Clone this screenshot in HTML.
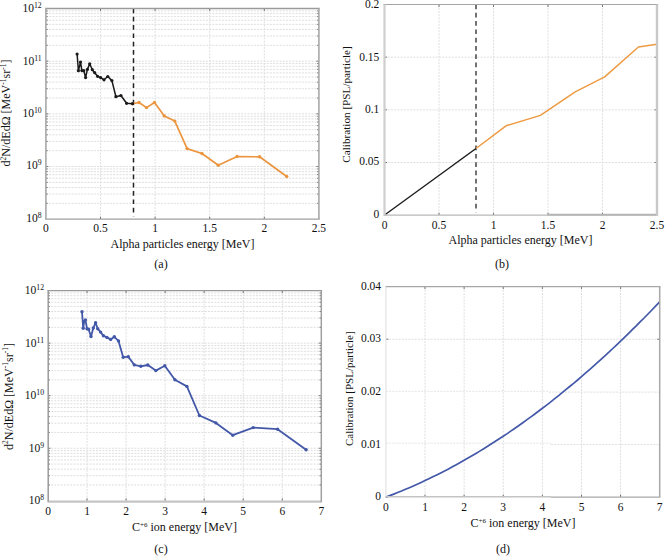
<!DOCTYPE html>
<html><head><meta charset="utf-8"><style>
html,body{margin:0;padding:0;background:#fff;}
svg{display:block;}
text{font-family:"Liberation Serif",serif;fill:#111;}
</style></head><body>
<svg width="665" height="556" viewBox="0 0 665 556">
<rect width="665" height="556" fill="#fff"/>
<line x1="45.9" y1="203.34" x2="318.9" y2="203.34" stroke="#dedede" stroke-width="1" stroke-dasharray="2,1.2"/>
<line x1="45.9" y1="203.34" x2="47.699999999999996" y2="203.34" stroke="#666" stroke-width="0.9"/>
<line x1="317.09999999999997" y1="203.34" x2="318.9" y2="203.34" stroke="#666" stroke-width="0.9"/>
<line x1="45.9" y1="194.07" x2="318.9" y2="194.07" stroke="#dedede" stroke-width="1" stroke-dasharray="2,1.2"/>
<line x1="45.9" y1="194.07" x2="47.699999999999996" y2="194.07" stroke="#666" stroke-width="0.9"/>
<line x1="317.09999999999997" y1="194.07" x2="318.9" y2="194.07" stroke="#666" stroke-width="0.9"/>
<line x1="45.9" y1="187.49" x2="318.9" y2="187.49" stroke="#dedede" stroke-width="1" stroke-dasharray="2,1.2"/>
<line x1="45.9" y1="187.49" x2="47.699999999999996" y2="187.49" stroke="#666" stroke-width="0.9"/>
<line x1="317.09999999999997" y1="187.49" x2="318.9" y2="187.49" stroke="#666" stroke-width="0.9"/>
<line x1="45.9" y1="182.38" x2="318.9" y2="182.38" stroke="#dedede" stroke-width="1" stroke-dasharray="2,1.2"/>
<line x1="45.9" y1="182.38" x2="47.699999999999996" y2="182.38" stroke="#666" stroke-width="0.9"/>
<line x1="317.09999999999997" y1="182.38" x2="318.9" y2="182.38" stroke="#666" stroke-width="0.9"/>
<line x1="45.9" y1="178.21" x2="318.9" y2="178.21" stroke="#dedede" stroke-width="1" stroke-dasharray="2,1.2"/>
<line x1="45.9" y1="178.21" x2="47.699999999999996" y2="178.21" stroke="#666" stroke-width="0.9"/>
<line x1="317.09999999999997" y1="178.21" x2="318.9" y2="178.21" stroke="#666" stroke-width="0.9"/>
<line x1="45.9" y1="174.68" x2="318.9" y2="174.68" stroke="#dedede" stroke-width="1" stroke-dasharray="2,1.2"/>
<line x1="45.9" y1="174.68" x2="47.699999999999996" y2="174.68" stroke="#666" stroke-width="0.9"/>
<line x1="317.09999999999997" y1="174.68" x2="318.9" y2="174.68" stroke="#666" stroke-width="0.9"/>
<line x1="45.9" y1="171.63" x2="318.9" y2="171.63" stroke="#dedede" stroke-width="1" stroke-dasharray="2,1.2"/>
<line x1="45.9" y1="171.63" x2="47.699999999999996" y2="171.63" stroke="#666" stroke-width="0.9"/>
<line x1="317.09999999999997" y1="171.63" x2="318.9" y2="171.63" stroke="#666" stroke-width="0.9"/>
<line x1="45.9" y1="168.94" x2="318.9" y2="168.94" stroke="#dedede" stroke-width="1" stroke-dasharray="2,1.2"/>
<line x1="45.9" y1="168.94" x2="47.699999999999996" y2="168.94" stroke="#666" stroke-width="0.9"/>
<line x1="317.09999999999997" y1="168.94" x2="318.9" y2="168.94" stroke="#666" stroke-width="0.9"/>
<line x1="45.9" y1="166.52" x2="318.9" y2="166.52" stroke="#dedede" stroke-width="1" stroke-dasharray="2,1.2"/>
<line x1="45.9" y1="166.52" x2="48.4" y2="166.52" stroke="#666" stroke-width="0.9"/>
<line x1="316.4" y1="166.52" x2="318.9" y2="166.52" stroke="#666" stroke-width="0.9"/>
<line x1="45.9" y1="150.67" x2="318.9" y2="150.67" stroke="#dedede" stroke-width="1" stroke-dasharray="2,1.2"/>
<line x1="45.9" y1="150.67" x2="47.699999999999996" y2="150.67" stroke="#666" stroke-width="0.9"/>
<line x1="317.09999999999997" y1="150.67" x2="318.9" y2="150.67" stroke="#666" stroke-width="0.9"/>
<line x1="45.9" y1="141.39" x2="318.9" y2="141.39" stroke="#dedede" stroke-width="1" stroke-dasharray="2,1.2"/>
<line x1="45.9" y1="141.39" x2="47.699999999999996" y2="141.39" stroke="#666" stroke-width="0.9"/>
<line x1="317.09999999999997" y1="141.39" x2="318.9" y2="141.39" stroke="#666" stroke-width="0.9"/>
<line x1="45.9" y1="134.81" x2="318.9" y2="134.81" stroke="#dedede" stroke-width="1" stroke-dasharray="2,1.2"/>
<line x1="45.9" y1="134.81" x2="47.699999999999996" y2="134.81" stroke="#666" stroke-width="0.9"/>
<line x1="317.09999999999997" y1="134.81" x2="318.9" y2="134.81" stroke="#666" stroke-width="0.9"/>
<line x1="45.9" y1="129.71" x2="318.9" y2="129.71" stroke="#dedede" stroke-width="1" stroke-dasharray="2,1.2"/>
<line x1="45.9" y1="129.71" x2="47.699999999999996" y2="129.71" stroke="#666" stroke-width="0.9"/>
<line x1="317.09999999999997" y1="129.71" x2="318.9" y2="129.71" stroke="#666" stroke-width="0.9"/>
<line x1="45.9" y1="125.54" x2="318.9" y2="125.54" stroke="#dedede" stroke-width="1" stroke-dasharray="2,1.2"/>
<line x1="45.9" y1="125.54" x2="47.699999999999996" y2="125.54" stroke="#666" stroke-width="0.9"/>
<line x1="317.09999999999997" y1="125.54" x2="318.9" y2="125.54" stroke="#666" stroke-width="0.9"/>
<line x1="45.9" y1="122.01" x2="318.9" y2="122.01" stroke="#dedede" stroke-width="1" stroke-dasharray="2,1.2"/>
<line x1="45.9" y1="122.01" x2="47.699999999999996" y2="122.01" stroke="#666" stroke-width="0.9"/>
<line x1="317.09999999999997" y1="122.01" x2="318.9" y2="122.01" stroke="#666" stroke-width="0.9"/>
<line x1="45.9" y1="118.95" x2="318.9" y2="118.95" stroke="#dedede" stroke-width="1" stroke-dasharray="2,1.2"/>
<line x1="45.9" y1="118.95" x2="47.699999999999996" y2="118.95" stroke="#666" stroke-width="0.9"/>
<line x1="317.09999999999997" y1="118.95" x2="318.9" y2="118.95" stroke="#666" stroke-width="0.9"/>
<line x1="45.9" y1="116.26" x2="318.9" y2="116.26" stroke="#dedede" stroke-width="1" stroke-dasharray="2,1.2"/>
<line x1="45.9" y1="116.26" x2="47.699999999999996" y2="116.26" stroke="#666" stroke-width="0.9"/>
<line x1="317.09999999999997" y1="116.26" x2="318.9" y2="116.26" stroke="#666" stroke-width="0.9"/>
<line x1="45.9" y1="113.85" x2="318.9" y2="113.85" stroke="#dedede" stroke-width="1" stroke-dasharray="2,1.2"/>
<line x1="45.9" y1="113.85" x2="48.4" y2="113.85" stroke="#666" stroke-width="0.9"/>
<line x1="316.4" y1="113.85" x2="318.9" y2="113.85" stroke="#666" stroke-width="0.9"/>
<line x1="45.9" y1="97.99" x2="318.9" y2="97.99" stroke="#dedede" stroke-width="1" stroke-dasharray="2,1.2"/>
<line x1="45.9" y1="97.99" x2="47.699999999999996" y2="97.99" stroke="#666" stroke-width="0.9"/>
<line x1="317.09999999999997" y1="97.99" x2="318.9" y2="97.99" stroke="#666" stroke-width="0.9"/>
<line x1="45.9" y1="88.72" x2="318.9" y2="88.72" stroke="#dedede" stroke-width="1" stroke-dasharray="2,1.2"/>
<line x1="45.9" y1="88.72" x2="47.699999999999996" y2="88.72" stroke="#666" stroke-width="0.9"/>
<line x1="317.09999999999997" y1="88.72" x2="318.9" y2="88.72" stroke="#666" stroke-width="0.9"/>
<line x1="45.9" y1="82.14" x2="318.9" y2="82.14" stroke="#dedede" stroke-width="1" stroke-dasharray="2,1.2"/>
<line x1="45.9" y1="82.14" x2="47.699999999999996" y2="82.14" stroke="#666" stroke-width="0.9"/>
<line x1="317.09999999999997" y1="82.14" x2="318.9" y2="82.14" stroke="#666" stroke-width="0.9"/>
<line x1="45.9" y1="77.03" x2="318.9" y2="77.03" stroke="#dedede" stroke-width="1" stroke-dasharray="2,1.2"/>
<line x1="45.9" y1="77.03" x2="47.699999999999996" y2="77.03" stroke="#666" stroke-width="0.9"/>
<line x1="317.09999999999997" y1="77.03" x2="318.9" y2="77.03" stroke="#666" stroke-width="0.9"/>
<line x1="45.9" y1="72.86" x2="318.9" y2="72.86" stroke="#dedede" stroke-width="1" stroke-dasharray="2,1.2"/>
<line x1="45.9" y1="72.86" x2="47.699999999999996" y2="72.86" stroke="#666" stroke-width="0.9"/>
<line x1="317.09999999999997" y1="72.86" x2="318.9" y2="72.86" stroke="#666" stroke-width="0.9"/>
<line x1="45.9" y1="69.33" x2="318.9" y2="69.33" stroke="#dedede" stroke-width="1" stroke-dasharray="2,1.2"/>
<line x1="45.9" y1="69.33" x2="47.699999999999996" y2="69.33" stroke="#666" stroke-width="0.9"/>
<line x1="317.09999999999997" y1="69.33" x2="318.9" y2="69.33" stroke="#666" stroke-width="0.9"/>
<line x1="45.9" y1="66.28" x2="318.9" y2="66.28" stroke="#dedede" stroke-width="1" stroke-dasharray="2,1.2"/>
<line x1="45.9" y1="66.28" x2="47.699999999999996" y2="66.28" stroke="#666" stroke-width="0.9"/>
<line x1="317.09999999999997" y1="66.28" x2="318.9" y2="66.28" stroke="#666" stroke-width="0.9"/>
<line x1="45.9" y1="63.59" x2="318.9" y2="63.59" stroke="#dedede" stroke-width="1" stroke-dasharray="2,1.2"/>
<line x1="45.9" y1="63.59" x2="47.699999999999996" y2="63.59" stroke="#666" stroke-width="0.9"/>
<line x1="317.09999999999997" y1="63.59" x2="318.9" y2="63.59" stroke="#666" stroke-width="0.9"/>
<line x1="45.9" y1="61.18" x2="318.9" y2="61.18" stroke="#dedede" stroke-width="1" stroke-dasharray="2,1.2"/>
<line x1="45.9" y1="61.18" x2="48.4" y2="61.18" stroke="#666" stroke-width="0.9"/>
<line x1="316.4" y1="61.18" x2="318.9" y2="61.18" stroke="#666" stroke-width="0.9"/>
<line x1="45.9" y1="45.32" x2="318.9" y2="45.32" stroke="#dedede" stroke-width="1" stroke-dasharray="2,1.2"/>
<line x1="45.9" y1="45.32" x2="47.699999999999996" y2="45.32" stroke="#666" stroke-width="0.9"/>
<line x1="317.09999999999997" y1="45.32" x2="318.9" y2="45.32" stroke="#666" stroke-width="0.9"/>
<line x1="45.9" y1="36.04" x2="318.9" y2="36.04" stroke="#dedede" stroke-width="1" stroke-dasharray="2,1.2"/>
<line x1="45.9" y1="36.04" x2="47.699999999999996" y2="36.04" stroke="#666" stroke-width="0.9"/>
<line x1="317.09999999999997" y1="36.04" x2="318.9" y2="36.04" stroke="#666" stroke-width="0.9"/>
<line x1="45.9" y1="29.46" x2="318.9" y2="29.46" stroke="#dedede" stroke-width="1" stroke-dasharray="2,1.2"/>
<line x1="45.9" y1="29.46" x2="47.699999999999996" y2="29.46" stroke="#666" stroke-width="0.9"/>
<line x1="317.09999999999997" y1="29.46" x2="318.9" y2="29.46" stroke="#666" stroke-width="0.9"/>
<line x1="45.9" y1="24.36" x2="318.9" y2="24.36" stroke="#dedede" stroke-width="1" stroke-dasharray="2,1.2"/>
<line x1="45.9" y1="24.36" x2="47.699999999999996" y2="24.36" stroke="#666" stroke-width="0.9"/>
<line x1="317.09999999999997" y1="24.36" x2="318.9" y2="24.36" stroke="#666" stroke-width="0.9"/>
<line x1="45.9" y1="20.19" x2="318.9" y2="20.19" stroke="#dedede" stroke-width="1" stroke-dasharray="2,1.2"/>
<line x1="45.9" y1="20.19" x2="47.699999999999996" y2="20.19" stroke="#666" stroke-width="0.9"/>
<line x1="317.09999999999997" y1="20.19" x2="318.9" y2="20.19" stroke="#666" stroke-width="0.9"/>
<line x1="45.9" y1="16.66" x2="318.9" y2="16.66" stroke="#dedede" stroke-width="1" stroke-dasharray="2,1.2"/>
<line x1="45.9" y1="16.66" x2="47.699999999999996" y2="16.66" stroke="#666" stroke-width="0.9"/>
<line x1="317.09999999999997" y1="16.66" x2="318.9" y2="16.66" stroke="#666" stroke-width="0.9"/>
<line x1="45.9" y1="13.60" x2="318.9" y2="13.60" stroke="#dedede" stroke-width="1" stroke-dasharray="2,1.2"/>
<line x1="45.9" y1="13.60" x2="47.699999999999996" y2="13.60" stroke="#666" stroke-width="0.9"/>
<line x1="317.09999999999997" y1="13.60" x2="318.9" y2="13.60" stroke="#666" stroke-width="0.9"/>
<line x1="45.9" y1="10.91" x2="318.9" y2="10.91" stroke="#dedede" stroke-width="1" stroke-dasharray="2,1.2"/>
<line x1="45.9" y1="10.91" x2="47.699999999999996" y2="10.91" stroke="#666" stroke-width="0.9"/>
<line x1="317.09999999999997" y1="10.91" x2="318.9" y2="10.91" stroke="#666" stroke-width="0.9"/>
<line x1="100.50" y1="8.5" x2="100.50" y2="219.2" stroke="#dedede" stroke-width="1" stroke-dasharray="2,1.2"/>
<line x1="100.50" y1="216.7" x2="100.50" y2="219.2" stroke="#666" stroke-width="0.9"/>
<line x1="100.50" y1="8.5" x2="100.50" y2="11.0" stroke="#666" stroke-width="0.9"/>
<line x1="155.10" y1="8.5" x2="155.10" y2="219.2" stroke="#dedede" stroke-width="1" stroke-dasharray="2,1.2"/>
<line x1="155.10" y1="216.7" x2="155.10" y2="219.2" stroke="#666" stroke-width="0.9"/>
<line x1="155.10" y1="8.5" x2="155.10" y2="11.0" stroke="#666" stroke-width="0.9"/>
<line x1="209.70" y1="8.5" x2="209.70" y2="219.2" stroke="#dedede" stroke-width="1" stroke-dasharray="2,1.2"/>
<line x1="209.70" y1="216.7" x2="209.70" y2="219.2" stroke="#666" stroke-width="0.9"/>
<line x1="209.70" y1="8.5" x2="209.70" y2="11.0" stroke="#666" stroke-width="0.9"/>
<line x1="264.30" y1="8.5" x2="264.30" y2="219.2" stroke="#dedede" stroke-width="1" stroke-dasharray="2,1.2"/>
<line x1="264.30" y1="216.7" x2="264.30" y2="219.2" stroke="#666" stroke-width="0.9"/>
<line x1="264.30" y1="8.5" x2="264.30" y2="11.0" stroke="#666" stroke-width="0.9"/>
<line x1="133.5" y1="8.5" x2="133.5" y2="216.2" stroke="#222" stroke-width="1.5" stroke-dasharray="4.7,3.6"/>
<polyline points="132.6,103.7 139.0,102.5 146.5,107.6 154.5,102.5 164.3,115.9 174.8,121.1 187.1,148.6 201.9,153.5 218.3,165.3 237.1,156.5 259.6,156.8 286.7,176.5" fill="none" stroke="#ec953f" stroke-width="1.7" stroke-linejoin="round"/>
<circle cx="132.6" cy="103.7" r="1.7" fill="#ec953f"/>
<circle cx="139.0" cy="102.5" r="1.7" fill="#ec953f"/>
<circle cx="146.5" cy="107.6" r="1.7" fill="#ec953f"/>
<circle cx="154.5" cy="102.5" r="1.7" fill="#ec953f"/>
<circle cx="164.3" cy="115.9" r="1.7" fill="#ec953f"/>
<circle cx="174.8" cy="121.1" r="1.7" fill="#ec953f"/>
<circle cx="187.1" cy="148.6" r="1.7" fill="#ec953f"/>
<circle cx="201.9" cy="153.5" r="1.7" fill="#ec953f"/>
<circle cx="218.3" cy="165.3" r="1.7" fill="#ec953f"/>
<circle cx="237.1" cy="156.5" r="1.7" fill="#ec953f"/>
<circle cx="259.6" cy="156.8" r="1.7" fill="#ec953f"/>
<circle cx="286.7" cy="176.5" r="1.7" fill="#ec953f"/>
<polyline points="77.1,54.0 78.4,70.7 80.5,62.1 81.9,70.6 83.8,70.7 85.6,77.6 87.4,69.4 89.7,63.8 92.3,69.7 94.7,72.7 97.6,76.3 100.6,77.6 104.0,79.8 107.8,76.5 111.9,80.6 115.9,96.7 120.9,95.5 126.6,103.3 132.6,103.7" fill="none" stroke="#1a1a1a" stroke-width="1.5" stroke-linejoin="round"/>
<circle cx="77.1" cy="54.0" r="1.6" fill="#1a1a1a"/>
<circle cx="78.4" cy="70.7" r="1.6" fill="#1a1a1a"/>
<circle cx="80.5" cy="62.1" r="1.6" fill="#1a1a1a"/>
<circle cx="81.9" cy="70.6" r="1.6" fill="#1a1a1a"/>
<circle cx="83.8" cy="70.7" r="1.6" fill="#1a1a1a"/>
<circle cx="85.6" cy="77.6" r="1.6" fill="#1a1a1a"/>
<circle cx="87.4" cy="69.4" r="1.6" fill="#1a1a1a"/>
<circle cx="89.7" cy="63.8" r="1.6" fill="#1a1a1a"/>
<circle cx="92.3" cy="69.7" r="1.6" fill="#1a1a1a"/>
<circle cx="94.7" cy="72.7" r="1.6" fill="#1a1a1a"/>
<circle cx="97.6" cy="76.3" r="1.6" fill="#1a1a1a"/>
<circle cx="100.6" cy="77.6" r="1.6" fill="#1a1a1a"/>
<circle cx="104.0" cy="79.8" r="1.6" fill="#1a1a1a"/>
<circle cx="107.8" cy="76.5" r="1.6" fill="#1a1a1a"/>
<circle cx="111.9" cy="80.6" r="1.6" fill="#1a1a1a"/>
<circle cx="115.9" cy="96.7" r="1.6" fill="#1a1a1a"/>
<circle cx="120.9" cy="95.5" r="1.6" fill="#1a1a1a"/>
<circle cx="126.6" cy="103.3" r="1.6" fill="#1a1a1a"/>
<circle cx="132.6" cy="103.7" r="1.6" fill="#1a1a1a"/>
<line x1="45.1" y1="8.5" x2="319.7" y2="8.5" stroke="#9a9a9a" stroke-width="1.3"/>
<line x1="45.1" y1="219.2" x2="319.7" y2="219.2" stroke="#a0a0a0" stroke-width="1.3"/>
<line x1="45.9" y1="8.5" x2="45.9" y2="219.2" stroke="#a8a8a8" stroke-width="1.6"/>
<line x1="318.9" y1="8.5" x2="318.9" y2="219.2" stroke="#a8a8a8" stroke-width="1.6"/>
<text x="41.6" y="12.1" font-size="11.5" text-anchor="end">10<tspan font-size="7.7" dy="-3.9">12</tspan></text>
<text x="41.6" y="64.5" font-size="11.5" text-anchor="end">10<tspan font-size="7.7" dy="-3.9">11</tspan></text>
<text x="41.6" y="116.9" font-size="11.5" text-anchor="end">10<tspan font-size="7.7" dy="-3.9">10</tspan></text>
<text x="41.6" y="169.3" font-size="11.5" text-anchor="end">10<tspan font-size="7.7" dy="-3.9">9</tspan></text>
<text x="41.6" y="221.7" font-size="11.5" text-anchor="end">10<tspan font-size="7.7" dy="-3.9">8</tspan></text>
<text x="45.9" y="232" font-size="11.5" text-anchor="middle" >0</text>
<text x="100.5" y="232" font-size="11.5" text-anchor="middle" >0.5</text>
<text x="155.1" y="232" font-size="11.5" text-anchor="middle" >1</text>
<text x="209.7" y="232" font-size="11.5" text-anchor="middle" >1.5</text>
<text x="264.3" y="232" font-size="11.5" text-anchor="middle" >2</text>
<text x="318.9" y="232" font-size="11.5" text-anchor="middle" >2.5</text>
<text x="182.5" y="248" font-size="12" text-anchor="middle" >Alpha particles energy [MeV]</text>
<text x="161" y="268" font-size="12" text-anchor="middle" >(a)</text>
<text x="0" y="0" font-size="12" text-anchor="middle" transform="translate(10,113) rotate(-90)">d<tspan font-size="7.5" dy="-4.5">2</tspan><tspan dy="4.5">N/dEdΩ [MeV</tspan><tspan font-size="7.5" dy="-4.5">-1</tspan><tspan dy="4.5">sr</tspan><tspan font-size="7.5" dy="-4.5">-1</tspan><tspan dy="4.5">]</tspan></text>
<line x1="384.5" y1="162.53" x2="657.0" y2="162.53" stroke="#dedede" stroke-width="1" stroke-dasharray="2,1.2"/>
<line x1="384.5" y1="162.53" x2="387.0" y2="162.53" stroke="#666" stroke-width="0.9"/>
<line x1="654.5" y1="162.53" x2="657.0" y2="162.53" stroke="#666" stroke-width="0.9"/>
<line x1="384.5" y1="109.85" x2="657.0" y2="109.85" stroke="#dedede" stroke-width="1" stroke-dasharray="2,1.2"/>
<line x1="384.5" y1="109.85" x2="387.0" y2="109.85" stroke="#666" stroke-width="0.9"/>
<line x1="654.5" y1="109.85" x2="657.0" y2="109.85" stroke="#666" stroke-width="0.9"/>
<line x1="384.5" y1="57.18" x2="657.0" y2="57.18" stroke="#dedede" stroke-width="1" stroke-dasharray="2,1.2"/>
<line x1="384.5" y1="57.18" x2="387.0" y2="57.18" stroke="#666" stroke-width="0.9"/>
<line x1="654.5" y1="57.18" x2="657.0" y2="57.18" stroke="#666" stroke-width="0.9"/>
<line x1="439.00" y1="4.5" x2="439.00" y2="215.2" stroke="#dedede" stroke-width="1" stroke-dasharray="2,1.2"/>
<line x1="439.00" y1="212.7" x2="439.00" y2="215.2" stroke="#666" stroke-width="0.9"/>
<line x1="439.00" y1="4.5" x2="439.00" y2="7.0" stroke="#666" stroke-width="0.9"/>
<line x1="493.50" y1="4.5" x2="493.50" y2="215.2" stroke="#dedede" stroke-width="1" stroke-dasharray="2,1.2"/>
<line x1="493.50" y1="212.7" x2="493.50" y2="215.2" stroke="#666" stroke-width="0.9"/>
<line x1="493.50" y1="4.5" x2="493.50" y2="7.0" stroke="#666" stroke-width="0.9"/>
<line x1="548.00" y1="4.5" x2="548.00" y2="215.2" stroke="#dedede" stroke-width="1" stroke-dasharray="2,1.2"/>
<line x1="548.00" y1="212.7" x2="548.00" y2="215.2" stroke="#666" stroke-width="0.9"/>
<line x1="548.00" y1="4.5" x2="548.00" y2="7.0" stroke="#666" stroke-width="0.9"/>
<line x1="602.50" y1="4.5" x2="602.50" y2="215.2" stroke="#dedede" stroke-width="1" stroke-dasharray="2,1.2"/>
<line x1="602.50" y1="212.7" x2="602.50" y2="215.2" stroke="#666" stroke-width="0.9"/>
<line x1="602.50" y1="4.5" x2="602.50" y2="7.0" stroke="#666" stroke-width="0.9"/>
<line x1="476" y1="4.5" x2="476" y2="212.2" stroke="#444" stroke-width="1.5" stroke-dasharray="4.7,3.6"/>
<polyline points="384.6,215.0 476.0,148.5" fill="none" stroke="#1a1a1a" stroke-width="1.4" stroke-linejoin="round"/>
<polyline points="476.0,148.5 506.0,125.8 540.4,115.4 575.2,91.9 604.7,76.9 638.4,47.0 657.0,44.2" fill="none" stroke="#ee9a42" stroke-width="1.45" stroke-linejoin="round"/>
<line x1="383.4" y1="4.5" x2="658.2" y2="4.5" stroke="#a6a6a6" stroke-width="1.2"/>
<line x1="383.4" y1="215.2" x2="658.2" y2="215.2" stroke="#b8b8b8" stroke-width="1.2"/>
<line x1="384.5" y1="4.5" x2="384.5" y2="215.2" stroke="#cfcfcf" stroke-width="2.2"/>
<line x1="657.0" y1="4.5" x2="657.0" y2="215.2" stroke="#c8c8c8" stroke-width="2.4"/>
<line x1="548" y1="214.7" x2="656" y2="214.7" stroke="#b4b4b4" stroke-width="1.8"/>
<text x="379.3" y="217.8" font-size="11.5" text-anchor="end" >0</text>
<text x="379.3" y="165.4" font-size="11.5" text-anchor="end" >0.05</text>
<text x="379.3" y="112.9" font-size="11.5" text-anchor="end" >0.1</text>
<text x="379.3" y="60.5" font-size="11.5" text-anchor="end" >0.15</text>
<text x="379.3" y="8.1" font-size="11.5" text-anchor="end" >0.2</text>
<text x="384.5" y="228.5" font-size="11.5" text-anchor="middle" >0</text>
<text x="439.0" y="228.5" font-size="11.5" text-anchor="middle" >0.5</text>
<text x="493.5" y="228.5" font-size="11.5" text-anchor="middle" >1</text>
<text x="548.0" y="228.5" font-size="11.5" text-anchor="middle" >1.5</text>
<text x="602.5" y="228.5" font-size="11.5" text-anchor="middle" >2</text>
<text x="657.0" y="228.5" font-size="11.5" text-anchor="middle" >2.5</text>
<text x="520.5" y="244" font-size="12" text-anchor="middle" >Alpha particles energy [MeV]</text>
<text x="502" y="267.5" font-size="12" text-anchor="middle" >(b)</text>
<text x="0" y="0" font-size="11.2" text-anchor="middle" transform="translate(350,104.5) rotate(-90)">Calibration [PSL/particle]</text>
<line x1="48.0" y1="484.98" x2="321.3" y2="484.98" stroke="#dedede" stroke-width="1" stroke-dasharray="2,1.2"/>
<line x1="48.0" y1="484.98" x2="49.8" y2="484.98" stroke="#666" stroke-width="0.9"/>
<line x1="319.5" y1="484.98" x2="321.3" y2="484.98" stroke="#666" stroke-width="0.9"/>
<line x1="48.0" y1="475.73" x2="321.3" y2="475.73" stroke="#dedede" stroke-width="1" stroke-dasharray="2,1.2"/>
<line x1="48.0" y1="475.73" x2="49.8" y2="475.73" stroke="#666" stroke-width="0.9"/>
<line x1="319.5" y1="475.73" x2="321.3" y2="475.73" stroke="#666" stroke-width="0.9"/>
<line x1="48.0" y1="469.16" x2="321.3" y2="469.16" stroke="#dedede" stroke-width="1" stroke-dasharray="2,1.2"/>
<line x1="48.0" y1="469.16" x2="49.8" y2="469.16" stroke="#666" stroke-width="0.9"/>
<line x1="319.5" y1="469.16" x2="321.3" y2="469.16" stroke="#666" stroke-width="0.9"/>
<line x1="48.0" y1="464.07" x2="321.3" y2="464.07" stroke="#dedede" stroke-width="1" stroke-dasharray="2,1.2"/>
<line x1="48.0" y1="464.07" x2="49.8" y2="464.07" stroke="#666" stroke-width="0.9"/>
<line x1="319.5" y1="464.07" x2="321.3" y2="464.07" stroke="#666" stroke-width="0.9"/>
<line x1="48.0" y1="459.91" x2="321.3" y2="459.91" stroke="#dedede" stroke-width="1" stroke-dasharray="2,1.2"/>
<line x1="48.0" y1="459.91" x2="49.8" y2="459.91" stroke="#666" stroke-width="0.9"/>
<line x1="319.5" y1="459.91" x2="321.3" y2="459.91" stroke="#666" stroke-width="0.9"/>
<line x1="48.0" y1="456.39" x2="321.3" y2="456.39" stroke="#dedede" stroke-width="1" stroke-dasharray="2,1.2"/>
<line x1="48.0" y1="456.39" x2="49.8" y2="456.39" stroke="#666" stroke-width="0.9"/>
<line x1="319.5" y1="456.39" x2="321.3" y2="456.39" stroke="#666" stroke-width="0.9"/>
<line x1="48.0" y1="453.34" x2="321.3" y2="453.34" stroke="#dedede" stroke-width="1" stroke-dasharray="2,1.2"/>
<line x1="48.0" y1="453.34" x2="49.8" y2="453.34" stroke="#666" stroke-width="0.9"/>
<line x1="319.5" y1="453.34" x2="321.3" y2="453.34" stroke="#666" stroke-width="0.9"/>
<line x1="48.0" y1="450.65" x2="321.3" y2="450.65" stroke="#dedede" stroke-width="1" stroke-dasharray="2,1.2"/>
<line x1="48.0" y1="450.65" x2="49.8" y2="450.65" stroke="#666" stroke-width="0.9"/>
<line x1="319.5" y1="450.65" x2="321.3" y2="450.65" stroke="#666" stroke-width="0.9"/>
<line x1="48.0" y1="448.25" x2="321.3" y2="448.25" stroke="#dedede" stroke-width="1" stroke-dasharray="2,1.2"/>
<line x1="48.0" y1="448.25" x2="50.5" y2="448.25" stroke="#666" stroke-width="0.9"/>
<line x1="318.8" y1="448.25" x2="321.3" y2="448.25" stroke="#666" stroke-width="0.9"/>
<line x1="48.0" y1="432.43" x2="321.3" y2="432.43" stroke="#dedede" stroke-width="1" stroke-dasharray="2,1.2"/>
<line x1="48.0" y1="432.43" x2="49.8" y2="432.43" stroke="#666" stroke-width="0.9"/>
<line x1="319.5" y1="432.43" x2="321.3" y2="432.43" stroke="#666" stroke-width="0.9"/>
<line x1="48.0" y1="423.18" x2="321.3" y2="423.18" stroke="#dedede" stroke-width="1" stroke-dasharray="2,1.2"/>
<line x1="48.0" y1="423.18" x2="49.8" y2="423.18" stroke="#666" stroke-width="0.9"/>
<line x1="319.5" y1="423.18" x2="321.3" y2="423.18" stroke="#666" stroke-width="0.9"/>
<line x1="48.0" y1="416.61" x2="321.3" y2="416.61" stroke="#dedede" stroke-width="1" stroke-dasharray="2,1.2"/>
<line x1="48.0" y1="416.61" x2="49.8" y2="416.61" stroke="#666" stroke-width="0.9"/>
<line x1="319.5" y1="416.61" x2="321.3" y2="416.61" stroke="#666" stroke-width="0.9"/>
<line x1="48.0" y1="411.52" x2="321.3" y2="411.52" stroke="#dedede" stroke-width="1" stroke-dasharray="2,1.2"/>
<line x1="48.0" y1="411.52" x2="49.8" y2="411.52" stroke="#666" stroke-width="0.9"/>
<line x1="319.5" y1="411.52" x2="321.3" y2="411.52" stroke="#666" stroke-width="0.9"/>
<line x1="48.0" y1="407.36" x2="321.3" y2="407.36" stroke="#dedede" stroke-width="1" stroke-dasharray="2,1.2"/>
<line x1="48.0" y1="407.36" x2="49.8" y2="407.36" stroke="#666" stroke-width="0.9"/>
<line x1="319.5" y1="407.36" x2="321.3" y2="407.36" stroke="#666" stroke-width="0.9"/>
<line x1="48.0" y1="403.84" x2="321.3" y2="403.84" stroke="#dedede" stroke-width="1" stroke-dasharray="2,1.2"/>
<line x1="48.0" y1="403.84" x2="49.8" y2="403.84" stroke="#666" stroke-width="0.9"/>
<line x1="319.5" y1="403.84" x2="321.3" y2="403.84" stroke="#666" stroke-width="0.9"/>
<line x1="48.0" y1="400.79" x2="321.3" y2="400.79" stroke="#dedede" stroke-width="1" stroke-dasharray="2,1.2"/>
<line x1="48.0" y1="400.79" x2="49.8" y2="400.79" stroke="#666" stroke-width="0.9"/>
<line x1="319.5" y1="400.79" x2="321.3" y2="400.79" stroke="#666" stroke-width="0.9"/>
<line x1="48.0" y1="398.10" x2="321.3" y2="398.10" stroke="#dedede" stroke-width="1" stroke-dasharray="2,1.2"/>
<line x1="48.0" y1="398.10" x2="49.8" y2="398.10" stroke="#666" stroke-width="0.9"/>
<line x1="319.5" y1="398.10" x2="321.3" y2="398.10" stroke="#666" stroke-width="0.9"/>
<line x1="48.0" y1="395.70" x2="321.3" y2="395.70" stroke="#dedede" stroke-width="1" stroke-dasharray="2,1.2"/>
<line x1="48.0" y1="395.70" x2="50.5" y2="395.70" stroke="#666" stroke-width="0.9"/>
<line x1="318.8" y1="395.70" x2="321.3" y2="395.70" stroke="#666" stroke-width="0.9"/>
<line x1="48.0" y1="379.88" x2="321.3" y2="379.88" stroke="#dedede" stroke-width="1" stroke-dasharray="2,1.2"/>
<line x1="48.0" y1="379.88" x2="49.8" y2="379.88" stroke="#666" stroke-width="0.9"/>
<line x1="319.5" y1="379.88" x2="321.3" y2="379.88" stroke="#666" stroke-width="0.9"/>
<line x1="48.0" y1="370.63" x2="321.3" y2="370.63" stroke="#dedede" stroke-width="1" stroke-dasharray="2,1.2"/>
<line x1="48.0" y1="370.63" x2="49.8" y2="370.63" stroke="#666" stroke-width="0.9"/>
<line x1="319.5" y1="370.63" x2="321.3" y2="370.63" stroke="#666" stroke-width="0.9"/>
<line x1="48.0" y1="364.06" x2="321.3" y2="364.06" stroke="#dedede" stroke-width="1" stroke-dasharray="2,1.2"/>
<line x1="48.0" y1="364.06" x2="49.8" y2="364.06" stroke="#666" stroke-width="0.9"/>
<line x1="319.5" y1="364.06" x2="321.3" y2="364.06" stroke="#666" stroke-width="0.9"/>
<line x1="48.0" y1="358.97" x2="321.3" y2="358.97" stroke="#dedede" stroke-width="1" stroke-dasharray="2,1.2"/>
<line x1="48.0" y1="358.97" x2="49.8" y2="358.97" stroke="#666" stroke-width="0.9"/>
<line x1="319.5" y1="358.97" x2="321.3" y2="358.97" stroke="#666" stroke-width="0.9"/>
<line x1="48.0" y1="354.81" x2="321.3" y2="354.81" stroke="#dedede" stroke-width="1" stroke-dasharray="2,1.2"/>
<line x1="48.0" y1="354.81" x2="49.8" y2="354.81" stroke="#666" stroke-width="0.9"/>
<line x1="319.5" y1="354.81" x2="321.3" y2="354.81" stroke="#666" stroke-width="0.9"/>
<line x1="48.0" y1="351.29" x2="321.3" y2="351.29" stroke="#dedede" stroke-width="1" stroke-dasharray="2,1.2"/>
<line x1="48.0" y1="351.29" x2="49.8" y2="351.29" stroke="#666" stroke-width="0.9"/>
<line x1="319.5" y1="351.29" x2="321.3" y2="351.29" stroke="#666" stroke-width="0.9"/>
<line x1="48.0" y1="348.24" x2="321.3" y2="348.24" stroke="#dedede" stroke-width="1" stroke-dasharray="2,1.2"/>
<line x1="48.0" y1="348.24" x2="49.8" y2="348.24" stroke="#666" stroke-width="0.9"/>
<line x1="319.5" y1="348.24" x2="321.3" y2="348.24" stroke="#666" stroke-width="0.9"/>
<line x1="48.0" y1="345.55" x2="321.3" y2="345.55" stroke="#dedede" stroke-width="1" stroke-dasharray="2,1.2"/>
<line x1="48.0" y1="345.55" x2="49.8" y2="345.55" stroke="#666" stroke-width="0.9"/>
<line x1="319.5" y1="345.55" x2="321.3" y2="345.55" stroke="#666" stroke-width="0.9"/>
<line x1="48.0" y1="343.15" x2="321.3" y2="343.15" stroke="#dedede" stroke-width="1" stroke-dasharray="2,1.2"/>
<line x1="48.0" y1="343.15" x2="50.5" y2="343.15" stroke="#666" stroke-width="0.9"/>
<line x1="318.8" y1="343.15" x2="321.3" y2="343.15" stroke="#666" stroke-width="0.9"/>
<line x1="48.0" y1="327.33" x2="321.3" y2="327.33" stroke="#dedede" stroke-width="1" stroke-dasharray="2,1.2"/>
<line x1="48.0" y1="327.33" x2="49.8" y2="327.33" stroke="#666" stroke-width="0.9"/>
<line x1="319.5" y1="327.33" x2="321.3" y2="327.33" stroke="#666" stroke-width="0.9"/>
<line x1="48.0" y1="318.08" x2="321.3" y2="318.08" stroke="#dedede" stroke-width="1" stroke-dasharray="2,1.2"/>
<line x1="48.0" y1="318.08" x2="49.8" y2="318.08" stroke="#666" stroke-width="0.9"/>
<line x1="319.5" y1="318.08" x2="321.3" y2="318.08" stroke="#666" stroke-width="0.9"/>
<line x1="48.0" y1="311.51" x2="321.3" y2="311.51" stroke="#dedede" stroke-width="1" stroke-dasharray="2,1.2"/>
<line x1="48.0" y1="311.51" x2="49.8" y2="311.51" stroke="#666" stroke-width="0.9"/>
<line x1="319.5" y1="311.51" x2="321.3" y2="311.51" stroke="#666" stroke-width="0.9"/>
<line x1="48.0" y1="306.42" x2="321.3" y2="306.42" stroke="#dedede" stroke-width="1" stroke-dasharray="2,1.2"/>
<line x1="48.0" y1="306.42" x2="49.8" y2="306.42" stroke="#666" stroke-width="0.9"/>
<line x1="319.5" y1="306.42" x2="321.3" y2="306.42" stroke="#666" stroke-width="0.9"/>
<line x1="48.0" y1="302.26" x2="321.3" y2="302.26" stroke="#dedede" stroke-width="1" stroke-dasharray="2,1.2"/>
<line x1="48.0" y1="302.26" x2="49.8" y2="302.26" stroke="#666" stroke-width="0.9"/>
<line x1="319.5" y1="302.26" x2="321.3" y2="302.26" stroke="#666" stroke-width="0.9"/>
<line x1="48.0" y1="298.74" x2="321.3" y2="298.74" stroke="#dedede" stroke-width="1" stroke-dasharray="2,1.2"/>
<line x1="48.0" y1="298.74" x2="49.8" y2="298.74" stroke="#666" stroke-width="0.9"/>
<line x1="319.5" y1="298.74" x2="321.3" y2="298.74" stroke="#666" stroke-width="0.9"/>
<line x1="48.0" y1="295.69" x2="321.3" y2="295.69" stroke="#dedede" stroke-width="1" stroke-dasharray="2,1.2"/>
<line x1="48.0" y1="295.69" x2="49.8" y2="295.69" stroke="#666" stroke-width="0.9"/>
<line x1="319.5" y1="295.69" x2="321.3" y2="295.69" stroke="#666" stroke-width="0.9"/>
<line x1="48.0" y1="293.00" x2="321.3" y2="293.00" stroke="#dedede" stroke-width="1" stroke-dasharray="2,1.2"/>
<line x1="48.0" y1="293.00" x2="49.8" y2="293.00" stroke="#666" stroke-width="0.9"/>
<line x1="319.5" y1="293.00" x2="321.3" y2="293.00" stroke="#666" stroke-width="0.9"/>
<line x1="87.04" y1="290.6" x2="87.04" y2="500.8" stroke="#dedede" stroke-width="1" stroke-dasharray="2,1.2"/>
<line x1="87.04" y1="498.3" x2="87.04" y2="500.8" stroke="#666" stroke-width="0.9"/>
<line x1="87.04" y1="290.6" x2="87.04" y2="293.1" stroke="#666" stroke-width="0.9"/>
<line x1="126.09" y1="290.6" x2="126.09" y2="500.8" stroke="#dedede" stroke-width="1" stroke-dasharray="2,1.2"/>
<line x1="126.09" y1="498.3" x2="126.09" y2="500.8" stroke="#666" stroke-width="0.9"/>
<line x1="126.09" y1="290.6" x2="126.09" y2="293.1" stroke="#666" stroke-width="0.9"/>
<line x1="165.13" y1="290.6" x2="165.13" y2="500.8" stroke="#dedede" stroke-width="1" stroke-dasharray="2,1.2"/>
<line x1="165.13" y1="498.3" x2="165.13" y2="500.8" stroke="#666" stroke-width="0.9"/>
<line x1="165.13" y1="290.6" x2="165.13" y2="293.1" stroke="#666" stroke-width="0.9"/>
<line x1="204.17" y1="290.6" x2="204.17" y2="500.8" stroke="#dedede" stroke-width="1" stroke-dasharray="2,1.2"/>
<line x1="204.17" y1="498.3" x2="204.17" y2="500.8" stroke="#666" stroke-width="0.9"/>
<line x1="204.17" y1="290.6" x2="204.17" y2="293.1" stroke="#666" stroke-width="0.9"/>
<line x1="243.21" y1="290.6" x2="243.21" y2="500.8" stroke="#dedede" stroke-width="1" stroke-dasharray="2,1.2"/>
<line x1="243.21" y1="498.3" x2="243.21" y2="500.8" stroke="#666" stroke-width="0.9"/>
<line x1="243.21" y1="290.6" x2="243.21" y2="293.1" stroke="#666" stroke-width="0.9"/>
<line x1="282.26" y1="290.6" x2="282.26" y2="500.8" stroke="#dedede" stroke-width="1" stroke-dasharray="2,1.2"/>
<line x1="282.26" y1="498.3" x2="282.26" y2="500.8" stroke="#666" stroke-width="0.9"/>
<line x1="282.26" y1="290.6" x2="282.26" y2="293.1" stroke="#666" stroke-width="0.9"/>
<polyline points="82.0,311.7 83.2,328.3 84.2,321.4 85.4,319.9 87.0,328.7 88.6,329.2 91.0,336.5 93.3,328.0 95.6,322.7 97.7,328.7 100.6,332.1 103.4,335.7 106.9,337.4 110.6,339.4 114.3,336.8 118.5,340.9 123.2,357.3 128.3,356.7 134.3,364.9 140.8,366.3 147.8,365.0 155.8,370.6 164.8,365.8 174.9,379.8 186.9,386.4 199.4,415.5 215.9,422.9 232.8,435.2 253.2,427.6 277.6,429.2 306.1,449.8" fill="none" stroke="#4358a8" stroke-width="1.8" stroke-linejoin="round"/>
<circle cx="82.0" cy="311.7" r="1.7" fill="#4358a8"/>
<circle cx="83.2" cy="328.3" r="1.7" fill="#4358a8"/>
<circle cx="84.2" cy="321.4" r="1.7" fill="#4358a8"/>
<circle cx="85.4" cy="319.9" r="1.7" fill="#4358a8"/>
<circle cx="87.0" cy="328.7" r="1.7" fill="#4358a8"/>
<circle cx="88.6" cy="329.2" r="1.7" fill="#4358a8"/>
<circle cx="91.0" cy="336.5" r="1.7" fill="#4358a8"/>
<circle cx="93.3" cy="328.0" r="1.7" fill="#4358a8"/>
<circle cx="95.6" cy="322.7" r="1.7" fill="#4358a8"/>
<circle cx="97.7" cy="328.7" r="1.7" fill="#4358a8"/>
<circle cx="100.6" cy="332.1" r="1.7" fill="#4358a8"/>
<circle cx="103.4" cy="335.7" r="1.7" fill="#4358a8"/>
<circle cx="106.9" cy="337.4" r="1.7" fill="#4358a8"/>
<circle cx="110.6" cy="339.4" r="1.7" fill="#4358a8"/>
<circle cx="114.3" cy="336.8" r="1.7" fill="#4358a8"/>
<circle cx="118.5" cy="340.9" r="1.7" fill="#4358a8"/>
<circle cx="123.2" cy="357.3" r="1.7" fill="#4358a8"/>
<circle cx="128.3" cy="356.7" r="1.7" fill="#4358a8"/>
<circle cx="134.3" cy="364.9" r="1.7" fill="#4358a8"/>
<circle cx="140.8" cy="366.3" r="1.7" fill="#4358a8"/>
<circle cx="147.8" cy="365.0" r="1.7" fill="#4358a8"/>
<circle cx="155.8" cy="370.6" r="1.7" fill="#4358a8"/>
<circle cx="164.8" cy="365.8" r="1.7" fill="#4358a8"/>
<circle cx="174.9" cy="379.8" r="1.7" fill="#4358a8"/>
<circle cx="186.9" cy="386.4" r="1.7" fill="#4358a8"/>
<circle cx="199.4" cy="415.5" r="1.7" fill="#4358a8"/>
<circle cx="215.9" cy="422.9" r="1.7" fill="#4358a8"/>
<circle cx="232.8" cy="435.2" r="1.7" fill="#4358a8"/>
<circle cx="253.2" cy="427.6" r="1.7" fill="#4358a8"/>
<circle cx="277.6" cy="429.2" r="1.7" fill="#4358a8"/>
<circle cx="306.1" cy="449.8" r="1.7" fill="#4358a8"/>
<line x1="47.45" y1="290.6" x2="322.05" y2="290.6" stroke="#999999" stroke-width="1.3"/>
<line x1="47.45" y1="501.6" x2="322.05" y2="501.6" stroke="#c4c4c4" stroke-width="2.4"/>
<line x1="48.2" y1="290.6" x2="48.2" y2="501.6" stroke="#999999" stroke-width="1.5"/>
<line x1="321.3" y1="290.6" x2="321.3" y2="501.6" stroke="#a0a0a0" stroke-width="1.5"/>
<text x="44" y="294.1" font-size="11.5" text-anchor="end">10<tspan font-size="7.7" dy="-3.9">12</tspan></text>
<text x="44" y="346.6" font-size="11.5" text-anchor="end">10<tspan font-size="7.7" dy="-3.9">11</tspan></text>
<text x="44" y="399.0" font-size="11.5" text-anchor="end">10<tspan font-size="7.7" dy="-3.9">10</tspan></text>
<text x="44" y="451.5" font-size="11.5" text-anchor="end">10<tspan font-size="7.7" dy="-3.9">9</tspan></text>
<text x="44" y="503.9" font-size="11.5" text-anchor="end">10<tspan font-size="7.7" dy="-3.9">8</tspan></text>
<text x="48.0" y="515" font-size="11.5" text-anchor="middle" >0</text>
<text x="87.0" y="515" font-size="11.5" text-anchor="middle" >1</text>
<text x="126.1" y="515" font-size="11.5" text-anchor="middle" >2</text>
<text x="165.1" y="515" font-size="11.5" text-anchor="middle" >3</text>
<text x="204.2" y="515" font-size="11.5" text-anchor="middle" >4</text>
<text x="243.2" y="515" font-size="11.5" text-anchor="middle" >5</text>
<text x="282.3" y="515" font-size="11.5" text-anchor="middle" >6</text>
<text x="321.3" y="515" font-size="11.5" text-anchor="middle" >7</text>
<text x="184.5" y="531" font-size="12" text-anchor="middle" >C<tspan font-size="7" dy="-4.2">+6</tspan><tspan dy="4.2"> ion energy [MeV]</tspan></text>
<text x="161" y="553" font-size="12" text-anchor="middle" >(c)</text>
<text x="0" y="0" font-size="12" text-anchor="middle" transform="translate(12.6,396.5) rotate(-90)">d<tspan font-size="7.5" dy="-4.5">2</tspan><tspan dy="4.5">N/dEdΩ [MeV</tspan><tspan font-size="7.5" dy="-4.5">-1</tspan><tspan dy="4.5">sr</tspan><tspan font-size="7.5" dy="-4.5">-1</tspan><tspan dy="4.5">]</tspan></text>
<line x1="385.9" y1="443.20" x2="551" y2="443.20" stroke="#e4e4e4" stroke-width="1" stroke-dasharray="2,1.2"/>
<line x1="551" y1="444.60" x2="659.7" y2="444.60" stroke="#dedede" stroke-width="1" stroke-dasharray="2,1.2"/>
<line x1="385.9" y1="391.30" x2="549" y2="391.30" stroke="#e4e4e4" stroke-width="1" stroke-dasharray="2,1.2"/>
<line x1="549" y1="392.10" x2="659.7" y2="392.10" stroke="#dedede" stroke-width="1" stroke-dasharray="2,1.2"/>
<line x1="385.9" y1="339.23" x2="659.7" y2="339.23" stroke="#dedede" stroke-width="1" stroke-dasharray="2,1.2"/>
<line x1="385.9" y1="339.23" x2="388.4" y2="339.23" stroke="#666" stroke-width="0.9"/>
<line x1="657.2" y1="339.23" x2="659.7" y2="339.23" stroke="#666" stroke-width="0.9"/>
<line x1="425.01" y1="286.6" x2="425.01" y2="497.1" stroke="#dedede" stroke-width="1" stroke-dasharray="2,1.2"/>
<line x1="425.01" y1="494.6" x2="425.01" y2="497.1" stroke="#666" stroke-width="0.9"/>
<line x1="425.01" y1="286.6" x2="425.01" y2="289.1" stroke="#666" stroke-width="0.9"/>
<line x1="464.13" y1="286.6" x2="464.13" y2="497.1" stroke="#dedede" stroke-width="1" stroke-dasharray="2,1.2"/>
<line x1="464.13" y1="494.6" x2="464.13" y2="497.1" stroke="#666" stroke-width="0.9"/>
<line x1="464.13" y1="286.6" x2="464.13" y2="289.1" stroke="#666" stroke-width="0.9"/>
<line x1="503.24" y1="286.6" x2="503.24" y2="497.1" stroke="#dedede" stroke-width="1" stroke-dasharray="2,1.2"/>
<line x1="503.24" y1="494.6" x2="503.24" y2="497.1" stroke="#666" stroke-width="0.9"/>
<line x1="503.24" y1="286.6" x2="503.24" y2="289.1" stroke="#666" stroke-width="0.9"/>
<line x1="542.36" y1="286.6" x2="542.36" y2="497.1" stroke="#dedede" stroke-width="1" stroke-dasharray="2,1.2"/>
<line x1="542.36" y1="494.6" x2="542.36" y2="497.1" stroke="#666" stroke-width="0.9"/>
<line x1="542.36" y1="286.6" x2="542.36" y2="289.1" stroke="#666" stroke-width="0.9"/>
<line x1="581.47" y1="286.6" x2="581.47" y2="497.1" stroke="#dedede" stroke-width="1" stroke-dasharray="2,1.2"/>
<line x1="581.47" y1="494.6" x2="581.47" y2="497.1" stroke="#666" stroke-width="0.9"/>
<line x1="581.47" y1="286.6" x2="581.47" y2="289.1" stroke="#666" stroke-width="0.9"/>
<line x1="620.59" y1="286.6" x2="620.59" y2="497.1" stroke="#dedede" stroke-width="1" stroke-dasharray="2,1.2"/>
<line x1="620.59" y1="494.6" x2="620.59" y2="497.1" stroke="#666" stroke-width="0.9"/>
<line x1="620.59" y1="286.6" x2="620.59" y2="289.1" stroke="#666" stroke-width="0.9"/>
<polyline points="385.9,497.1 389.8,495.6 393.7,494.1 397.6,492.5 401.5,491.0 405.5,489.3 409.4,487.7 413.3,486.0 417.2,484.2 421.1,482.4 425.0,480.6 428.9,478.7 432.8,476.8 436.7,474.9 440.7,472.9 444.6,470.9 448.5,468.9 452.4,466.8 456.3,464.7 460.2,462.5 464.1,460.3 468.0,458.1 472.0,455.8 475.9,453.5 479.8,451.1 483.7,448.7 487.6,446.3 491.5,443.8 495.4,441.3 499.3,438.8 503.2,436.2 507.2,433.6 511.1,430.9 515.0,428.2 518.9,425.5 522.8,422.7 526.7,419.9 530.6,417.1 534.5,414.2 538.4,411.3 542.4,408.3 546.3,405.3 550.2,402.3 554.1,399.2 558.0,396.1 561.9,392.9 565.8,389.7 569.7,386.5 573.6,383.3 577.6,380.0 581.5,376.6 585.4,373.2 589.3,369.8 593.2,366.4 597.1,362.9 601.0,359.3 604.9,355.8 608.9,352.2 612.8,348.5 616.7,344.8 620.6,341.1 624.5,337.4 628.4,333.6 632.3,329.7 636.2,325.9 640.1,321.9 644.1,318.0 648.0,314.0 651.9,310.0 655.8,305.9 659.7,301.8" fill="none" stroke="#4358a8" stroke-width="1.7" stroke-linejoin="round"/>
<line x1="385.25" y1="286.6" x2="660.45" y2="286.6" stroke="#a6a6a6" stroke-width="1.3"/>
<line x1="385.25" y1="497.1" x2="660.45" y2="497.1" stroke="none" stroke-width="0"/>
<line x1="385.9" y1="286.6" x2="385.9" y2="497.1" stroke="#e4e4e4" stroke-width="1.3"/>
<line x1="659.7" y1="286.6" x2="659.7" y2="497.1" stroke="#a8a8a8" stroke-width="1.5"/>
<line x1="385.2" y1="496.7" x2="551" y2="496.7" stroke="#c4c4c4" stroke-width="1.6"/>
<line x1="551" y1="497.2" x2="660.4" y2="497.2" stroke="#a8a8a8" stroke-width="1.3"/>
<text x="381" y="500.1" font-size="11.5" text-anchor="end" >0</text>
<text x="381" y="447.5" font-size="11.5" text-anchor="end" >0.01</text>
<text x="381" y="394.9" font-size="11.5" text-anchor="end" >0.02</text>
<text x="381" y="342.2" font-size="11.5" text-anchor="end" >0.03</text>
<text x="381" y="289.6" font-size="11.5" text-anchor="end" >0.04</text>
<text x="385.9" y="510.8" font-size="11.5" text-anchor="middle" >0</text>
<text x="425.0" y="510.8" font-size="11.5" text-anchor="middle" >1</text>
<text x="464.1" y="510.8" font-size="11.5" text-anchor="middle" >2</text>
<text x="503.2" y="510.8" font-size="11.5" text-anchor="middle" >3</text>
<text x="542.4" y="510.8" font-size="11.5" text-anchor="middle" >4</text>
<text x="581.5" y="510.8" font-size="11.5" text-anchor="middle" >5</text>
<text x="620.6" y="510.8" font-size="11.5" text-anchor="middle" >6</text>
<text x="659.7" y="510.8" font-size="11.5" text-anchor="middle" >7</text>
<text x="523" y="527.1" font-size="12" text-anchor="middle" >C<tspan font-size="7" dy="-4.2">+6</tspan><tspan dy="4.2"> ion energy [MeV]</tspan></text>
<text x="503" y="553" font-size="12" text-anchor="middle" >(d)</text>
<text x="0" y="0" font-size="11.0" text-anchor="middle" transform="translate(352.5,388.7) rotate(-90)">Calibration [PSL/particle]</text>
</svg></body></html>
